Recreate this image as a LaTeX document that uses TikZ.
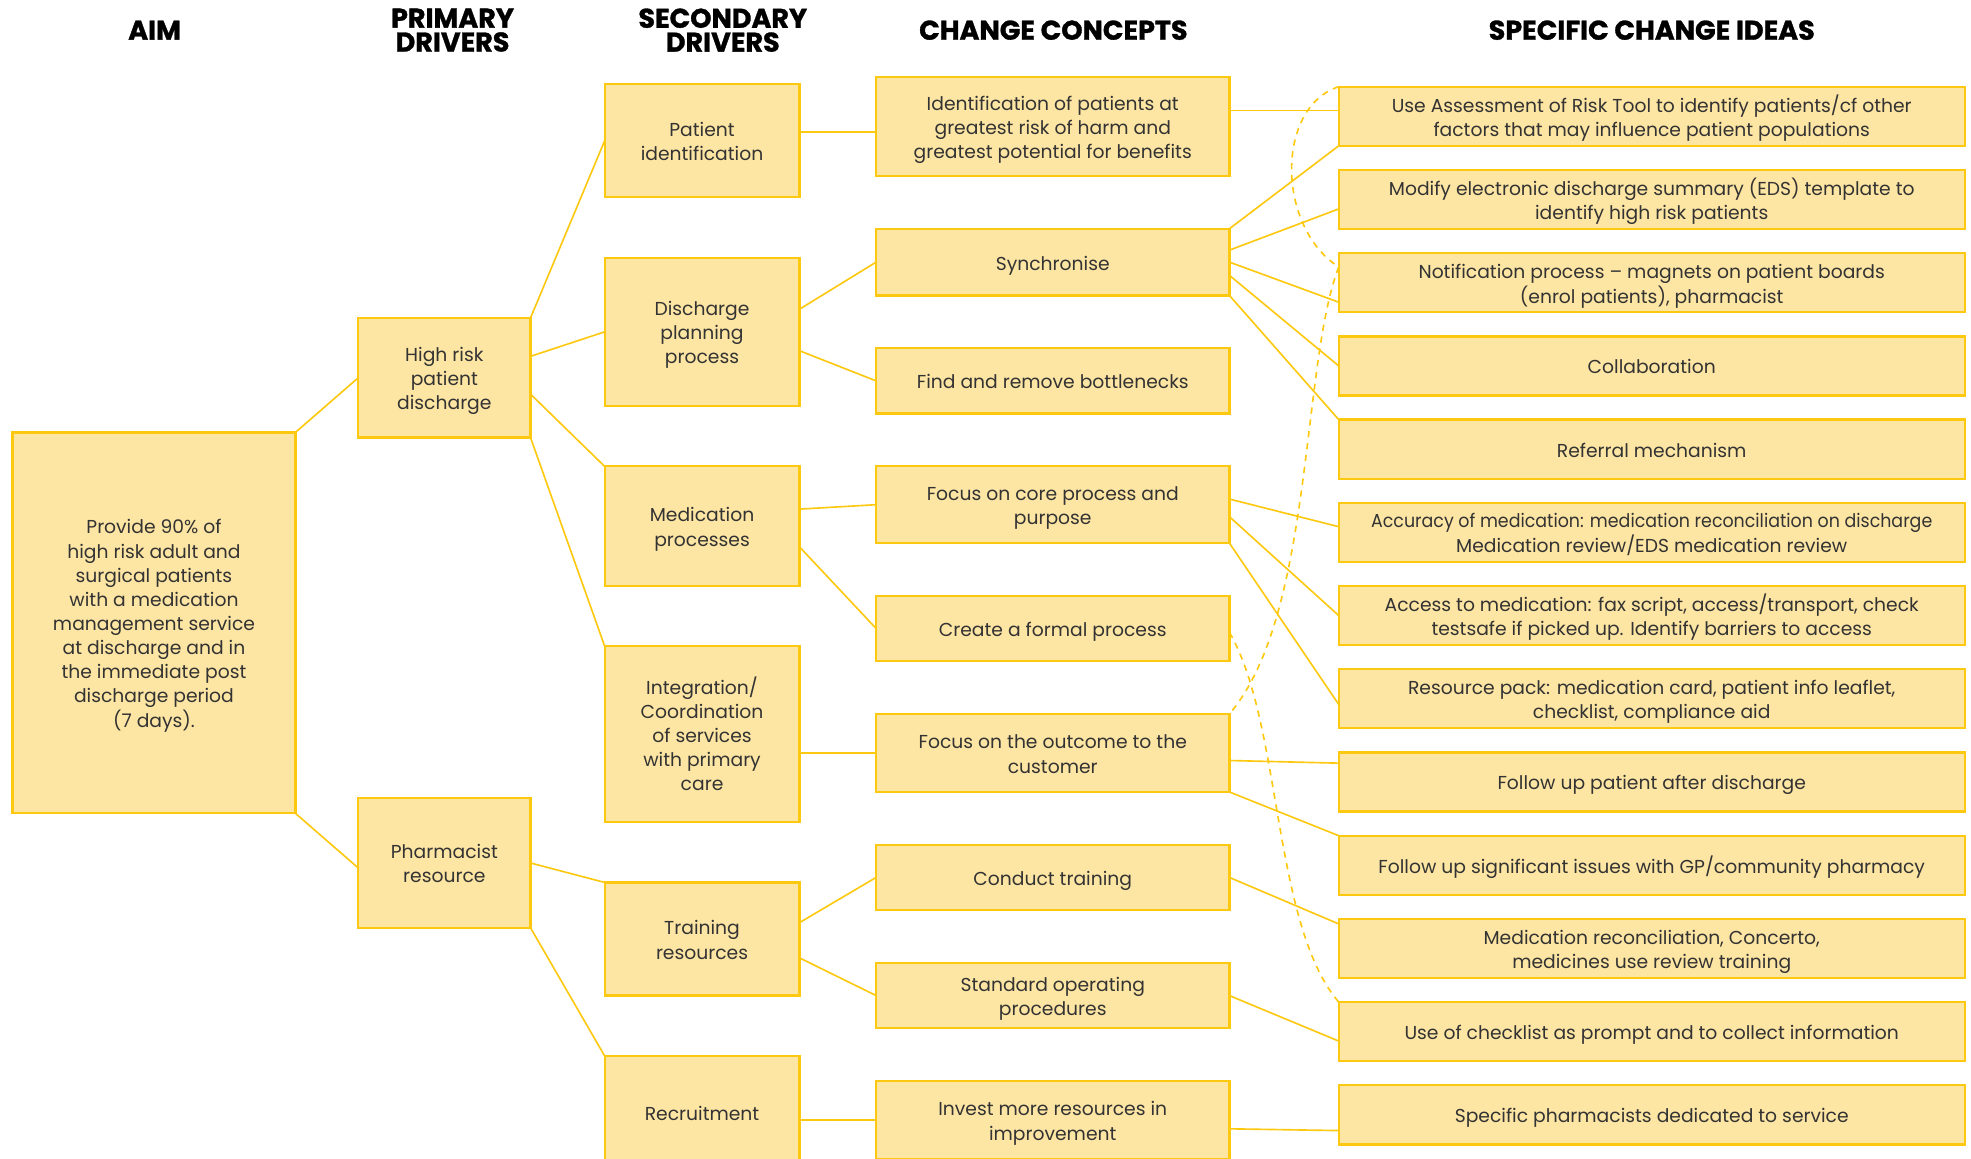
\documentclass[tikz,border=0pt]{standalone}
\usepackage{fontspec}
\usepackage{graphicx}
\setmainfont{Poppins}
\newfontfamily\headfam[FakeBold=1.2]{Poppins}
\usetikzlibrary{positioning}
\definecolor{boxfill}{RGB}{253,229,163}
\definecolor{boxline}{RGB}{253,200,16}
\definecolor{inkgray}{RGB}{51,51,51}
\newcommand{\bodyfont}{\fontsize{14.9}{19.2}\selectfont}
\newcommand{\headfont}{\headfam\bfseries\fontsize{21.5}{19}\selectfont}
% box text, set a little low as in the source
\newcommand{\tx}[1]{\raisebox{-2.5pt}[\height][\depth]{\begin{tabular}{@{}c@{}}#1\end{tabular}}}

\begin{document}
\begin{tikzpicture}[
  x=1pt, y=-1pt,
  box/.style={rectangle, draw=boxline, fill=boxfill, line width=1.8pt,
               inner sep=0pt, outer sep=0pt, anchor=north west,
               font=\bodyfont, text=inkgray},
  prim/.style={box, minimum width=137pt},
  sec/.style={box, minimum width=155pt},
  concept/.style={box, minimum width=281pt},
  idea/.style={box, minimum width=498pt, minimum height=47pt},
  head/.style={font=\headfont, align=center, text=black},
  link/.style={draw=boxline, line width=1.3pt},
  dashlink/.style={link, dash pattern=on 5pt off 4.5pt},
]
\useasboundingbox (0,0) rectangle (1568,922);

\node[head] (haim)  at (123,24)  {AIM};
\node[head] (hprim) at (360,24)  {PRIMARY\\DRIVERS};
\node[head] (hsec)  at (575,24)  {SECONDARY\\DRIVERS};
\node[head] (hcon)  at (838,24)  {CHANGE CONCEPTS};
\node[head] (hidea) at (1314,24) {SPECIFIC CHANGE IDEAS};

\node[box, minimum width=225pt, minimum height=303pt] (aim) at (10,344)
  {\tx{Provide 90\% of\\high risk adult and\\surgical patients\\with a medication\\management service\\at discharge and in\\the immediate post\\discharge period\\(7 days).}};

\node[prim, minimum height=95pt]  (hrpd)  at (285,253) {\tx{High risk\\patient\\discharge}};
\node[prim, minimum height=103pt] (pharm) at (285,635) {\tx{Pharmacist\\resource}};

\node[sec, minimum height=90pt] (pid) at (481,67) {\tx{Patient\\identification}};
\node[sec, minimum height=118pt, below=48pt of pid] (dpp)   {\tx{Discharge\\planning\\process}};
\node[sec, minimum height=95pt,  below=48pt of dpp] (medp)  {\tx{Medication\\processes}};
\node[sec, minimum height=140pt, below=48pt of medp] (integ) {\tx{Integration/\\Coordination\\of services\\with primary\\care}};
\node[sec, minimum height=90pt,  below=48pt of integ] (train) {\tx{Training\\resources}};
\node[sec, minimum height=90pt,  below=48pt of train] (recr)  {\tx{Recruitment}};

\node[concept, minimum height=79pt] (ident) at (697,61) {\tx{Identification of patients at\\greatest risk of harm and\\greatest potential for benefits}};
\node[concept, minimum height=53pt, below=42pt of ident]   (sync)    {\tx{Synchronise}};
\node[concept, minimum height=52pt, below=42pt of sync]    (bneck)   {\tx{Find and remove bottlenecks}};
\node[concept, minimum height=61pt, below=42pt of bneck]   (core)    {\tx{Focus on core process and\\purpose}};
\node[concept, minimum height=52pt, below=42pt of core]    (formal)  {\tx{Create a formal process}};
\node[concept, minimum height=62pt, below=42pt of formal]  (outcome) {\tx{Focus on the outcome to the\\customer}};
\node[concept, minimum height=52pt, below=42pt of outcome] (ctrain)  {\tx{Conduct training}};
\node[concept, minimum height=52pt, below=42pt of ctrain]  (sop)     {\tx{Standard operating\\procedures}};
\node[concept, minimum height=62pt, below=42pt of sop]     (invest)  {\tx{Invest more resources in\\improvement}};

\node[idea] (art) at (1065,69) {\tx{Use Assessment of Risk Tool to identify patients/cf other\\factors that may influence patient populations}};
\node[idea, below=19.2pt of art]    (eds)     {\tx{Modify electronic discharge summary (EDS) template to\\identify high risk patients}};
\node[idea, below=19.2pt of eds]    (notif)   {\tx{Notification process – magnets on patient boards\\(enrol patients), pharmacist}};
\node[idea, below=19.2pt of notif]  (collab)  {\tx{Collaboration}};
\node[idea, below=19.2pt of collab] (referral){\tx{Referral mechanism}};
\node[idea, below=19.2pt of referral] (accur) {\tx{\scalebox{0.93}[1]{Accuracy of medication: medication reconciliation on discharge}\\Medication review/EDS medication review}};
\node[idea, below=19.2pt of accur]  (access)  {\tx{Access to medication: fax script, access/transport, check\\testsafe if picked up. Identify barriers to access}};
\node[idea, below=19.2pt of access] (rpack)   {\tx{Resource pack: medication card, patient info leaflet,\\checklist, compliance aid}};
\node[idea, below=19.2pt of rpack]  (fupat)   {\tx{Follow up patient after discharge}};
\node[idea, below=19.2pt of fupat]  (fusig)   {\tx{Follow up significant issues with GP/community pharmacy}};
\node[idea, below=19.2pt of fusig]  (medrec)  {\tx{Medication reconciliation, Concerto,\\medicines use review training}};
\node[idea, below=19.2pt of medrec] (chklist) {\tx{Use of checklist as prompt and to collect information}};
\node[idea, below=19.2pt of chklist] (dedic)  {\tx{Specific pharmacists dedicated to service}};

\draw[link] (aim.north east) -- (hrpd.west);
\draw[link] (aim.south east) -- ([yshift=-4pt]pharm.west);
\draw[link] (hrpd.north east) -- (pid.west);
\draw[link] ([yshift=17pt]hrpd.east) -- (dpp.west);
\draw[link] ([yshift=-13pt]hrpd.east) -- (medp.north west);
\draw[link] (hrpd.south east) -- (integ.north west);
\draw[link] (pharm.east) -- (train.north west);
\draw[link] (pharm.south east) -- (recr.north west);

\draw[link] ([yshift=7pt]pid.east) -- ([yshift=-4.5pt]ident.west);
\draw[link] ([yshift=18pt]dpp.east) -- (sync.west);
\draw[link] ([yshift=-15pt]dpp.east) -- (bneck.west);
\draw[link] ([yshift=13.5pt]medp.east) -- (core.west);
\draw[link] ([yshift=-16.5pt]medp.east) -- (formal.west);
\draw[link] (integ.east |- outcome.west) -- (outcome.west);
\draw[link] ([yshift=13pt]train.east) -- (ctrain.west);
\draw[link] ([yshift=-15pt]train.east) -- (sop.west);
\draw[link] (recr.east |- invest.west) -- (invest.west);

\draw[link] ([yshift=12.5pt]ident.east) -- ([yshift=4.5pt]art.west);
\draw[link] (sync.north east) -- (art.south west);
\draw[link] ([yshift=9.5pt]sync.east) -- ([yshift=-7.5pt]eds.west);
\draw[link] (sync.east) -- ([yshift=-15.5pt]notif.west);
\draw[link] ([yshift=-10.5pt]sync.east) -- (collab.west);
\draw[link] (sync.south east) -- (referral.north west);
\draw[link] ([yshift=4.5pt]core.east) -- ([yshift=4.5pt]accur.west);
\draw[link] ([yshift=-9.5pt]core.east) -- (access.west);
\draw[link] (core.south east) -- ([yshift=-4.5pt]rpack.west);
\draw[link] ([yshift=-6pt]outcome.east) -- ([yshift=15pt]fupat.west);
\draw[link] (outcome.south east) -- (fusig.north west);
\draw[link] (ctrain.east) -- ([yshift=-4pt]medrec.north west);
\draw[link] (sop.east) -- ([yshift=-7.5pt]chklist.west);
\draw[link] ([yshift=-7pt]invest.east) -- ([yshift=-12.5pt]dedic.west);

\draw[dashlink] (art.north west) .. controls (1015,85) and (1015,180) .. ([yshift=-11pt]notif.north west);
\draw[dashlink] ([yshift=-11pt]notif.north west) .. controls (1035,290) and (1045,490) .. (outcome.north east);
\draw[dashlink] ([yshift=-3pt]formal.east) .. controls (1020,575) and (1012,735) .. (chklist.north west);
\end{tikzpicture}
\end{document}
